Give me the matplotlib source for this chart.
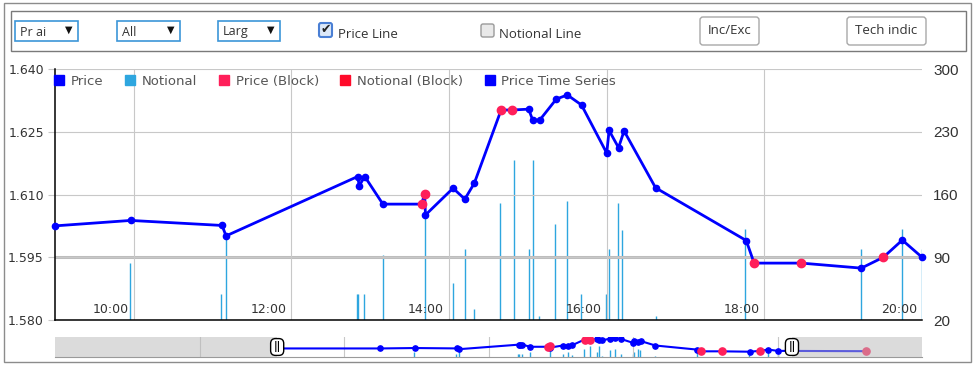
import matplotlib
matplotlib.use("Agg")
import numpy as np
import matplotlib.pyplot as plt
from matplotlib.patches import FancyBboxPatch
from matplotlib.lines import Line2D
from matplotlib.transforms import Affine2D, blended_transform_factory, offset_copy

plt.rcParams['font.family'] = 'DejaVu Sans'

W, H = 975, 367

# trades, time in hours of the day
price_times = [6.1, 9.0, 9.96, 11.12, 11.17, 12.84, 12.86, 12.93, 13.16, 13.65, 13.69, 13.70,
               14.05, 14.20, 14.32, 14.66, 14.80, 15.01, 15.06, 15.15, 15.36, 15.50, 15.68,
               16.00, 16.03, 16.15, 16.22, 16.62, 17.77, 17.87, 18.47, 19.23, 19.51, 19.75,
               20.0, 22.45]
prices = [1.6025, 1.6025, 1.6038, 1.6026, 1.6001, 1.6143, 1.6121, 1.6143, 1.6077, 1.6077,
          1.6101, 1.6051, 1.6115, 1.6089, 1.6127, 1.6302, 1.6302, 1.6304, 1.6278, 1.6278,
          1.6328, 1.6338, 1.6314, 1.6199, 1.6253, 1.6212, 1.6252, 1.6116, 1.5990, 1.5936,
          1.5936, 1.5924, 1.5950, 1.5991, 1.5950, 1.5940]
is_block = [0, 0, 0, 0, 0, 0, 0, 0, 0, 1,
            1, 0, 0, 0, 0, 1, 1, 0, 0, 0,
            0, 0, 0, 0, 0, 0, 0, 0, 0, 1,
            1, 0, 1, 0, 0, 1]

notional_times = [9.95, 11.10, 11.17, 12.83, 12.84, 12.92, 13.16, 13.69, 14.05, 14.20, 14.31,
                  14.65, 14.82, 15.01, 15.06, 15.14, 15.35, 15.49, 15.67, 15.99, 16.03, 16.14,
                  16.20, 16.62, 17.76, 19.22, 19.75, 20.0]
notional = [84, 49, 114, 49, 49, 49, 92, 135, 61, 99, 32,
            150, 199, 99, 199, 24, 127, 153, 49, 49, 99, 151,
            120, 24, 122, 99, 122, 99]

price_ticks = [1.580, 1.595, 1.610, 1.625, 1.640]
notional_ticks = [20, 90, 160, 230, 300]
hour_ticks = [10, 12, 14, 16, 18, 20]
hour_labels = ["10:00", "12:00", "14:00", "16:00", "18:00", "20:00"]
ref_price = 1.595
view = (9, 20)
nav_grid_hours = [4, 8, 12, 16, 20]
nav_range = (6.15, 20.4)

legend_labels = ["Price", "Notional", "Price (Block)", "Notional (Block)", "Price Time Series"]
legend_colors = ["#0000ff", "#2ea6df", "#ff1f5a", "#ff0a2a", "#0000ff"]

BLUE = "#0000ff"
PINK = "#ff1f5a"
NOTIONAL = "#2ea6df"
GRID = "#c8c8c8"

t = np.array(price_times)
p = np.array(prices)
blk = np.array(is_block, dtype=bool)

fig = plt.figure(figsize=(W / 100, H / 100), dpi=100)
px = Affine2D().scale(1 / W, -1 / H).translate(0, 1) + fig.transFigure


def box(x0, y0, x1, y1, r=0, **kw):
    style = f"round,pad=0,rounding_size={r}" if r else "square,pad=0"
    fig.add_artist(FancyBboxPatch((x0, y0), x1 - x0, y1 - y0, boxstyle=style, transform=px, **kw))


def label(x, y, s, **kw):
    kw.setdefault('fontsize', 9)
    kw.setdefault('color', '#333333')
    kw.setdefault('family', 'Open Sans')
    fig.text(x, y, s, transform=px, **kw)


# frame + toolbar
box(4, 3, 971, 362, fc='none', ec='#8c8c8c', lw=1)
box(11, 11, 966, 51, fc='none', ec='#7a7a7a', lw=1)
for name, x0, x1 in [("Pr ai", 15, 78), ("All", 117, 180), ("Larg", 218, 280)]:
    box(x0, 21, x1, 41, fc='white', ec='#3c96d8', lw=1.2)
    label(x0 + 5, 32, name, va='center')
    label(x1 - 9, 30, "\u25bc", va='center', ha='center', fontsize=7, color='#111111', family='DejaVu Sans')
box(319, 23, 332, 37, r=2, fc='#dce8f8', ec='#4a7fd4', lw=1.5)
label(325.5, 30, "\u2714", ha='center', va='center', fontsize=9, color='#222222', family='DejaVu Sans')
label(338, 34, "Price Line", va='center', fontsize=9.5)
box(481, 24, 494, 37, r=2, fc='#e9e9e9', ec='#9a9a9a', lw=1)
label(499, 34, "Notional Line", va='center', fontsize=9.5)
for name, x0, x1 in [("Inc/Exc", 700, 759), ("Tech indic", 847, 926)]:
    box(x0, 17, x1, 45, r=3, fc='white', ec='#a8a8a8', lw=1)
    label((x0 + x1) / 2, 31, name, ha='center', va='center', fontsize=9.5)

# main chart
ax = fig.add_axes([55 / W, (H - 320) / H, 867 / W, 251 / H])
axb = ax.twinx()
ax.set_zorder(axb.get_zorder() + 1)
ax.patch.set_visible(False)

axb.vlines(notional_times, notional_ticks[0], notional, color=NOTIONAL, lw=1)
axb.set_ylim(notional_ticks[0], notional_ticks[-1])
axb.set_yticks(notional_ticks)
axb.tick_params(axis='y', length=0, pad=8, labelsize=11, labelcolor='#333333')
for lab in axb.get_yticklabels():
    lab.set_family('Liberation Sans')
for s in axb.spines.values():
    s.set_visible(False)

ax.set_xlim(*view)
ax.set_ylim(price_ticks[0], price_ticks[-1])
ax.set_yticks(price_ticks)
ax.set_yticklabels([f"{v:.3f}" for v in price_ticks])
ax.set_xticks(hour_ticks[:-1])
ax.set_xticklabels([])
ax.tick_params(axis='x', length=0)
ax.tick_params(axis='y', length=5, color=GRID, labelsize=9, labelcolor='#333333', pad=3)
ax.grid(True, color=GRID, lw=0.8, zorder=0)
ax.axhline(ref_price, color='#bdbdbd', lw=2.2, zorder=1)
for side in ['top', 'right']:
    ax.spines[side].set_visible(False)
ax.spines['left'].set_linewidth(1.1)
ax.spines['bottom'].set_linewidth(1.1)

ax.plot(t, p, color=BLUE, lw=2, zorder=3)
inside = (t >= view[0]) & (t <= view[1])
ax.plot(t[inside & ~blk], p[inside & ~blk], 'o', ms=4.5, color=BLUE, zorder=4, clip_on=False)
ax.plot(t[inside & blk], p[inside & blk], 'o', ms=6, color=PINK, mec=PINK, zorder=5, clip_on=False)

tr = offset_copy(blended_transform_factory(ax.transData, ax.transAxes), fig=fig, x=-5, y=0, units='dots')
for h, s in zip(hour_ticks, hour_labels):
    ax.text(h, 0.016, s, transform=tr, ha='right', va='bottom', fontsize=9, color='#333333')

handles = [Line2D([], [], marker='s', ls='', color=c, ms=7) for c in legend_colors]
ax.legend(handles, legend_labels, loc='upper left', bbox_to_anchor=(54 / W, 1 - 75 / H),
          bbox_transform=fig.transFigure, ncol=5, frameon=False, fontsize=9.5,
          handlelength=0.8, handletextpad=0.5, columnspacing=1.6, borderpad=0,
          borderaxespad=0, labelcolor='#555555')

# navigator
nav = fig.add_axes([55 / W, (H - 357) / H, 867 / W, 20 / H])
navb = nav.twinx()
nav.set_zorder(navb.get_zorder() + 1)
nav.patch.set_visible(False)
navb.vlines(notional_times, 0, notional, color=NOTIONAL, lw=1)
navb.set_ylim(0, 360)
navb.set_yticks([])
for s in navb.spines.values():
    s.set_visible(False)

nav.set_xlim(0, 24)
nav.set_ylim(1.576, 1.638)
nav.set_xticks([])
nav.set_yticks([])
for g in nav_grid_hours:
    nav.axvline(g, color=GRID, lw=0.8, zorder=0)
nav.plot(t, p, color=BLUE, lw=1.5, zorder=3)
nav.plot(t[~blk], p[~blk], 'o', ms=3.8, color=BLUE, zorder=4)
nav.plot(t[blk], p[blk], 'o', ms=5.2, color=PINK, zorder=4)
nav.axvspan(0, nav_range[0], color='#b9b9b9', alpha=0.5, lw=0, zorder=5)
nav.axvspan(nav_range[1], 24, color='#b9b9b9', alpha=0.5, lw=0, zorder=5)
for side in ['top', 'left', 'right']:
    nav.spines[side].set_visible(False)
nav.spines['bottom'].set_color('#9a9a9a')
ntr = blended_transform_factory(nav.transData, nav.transAxes)
for x in nav_range:
    nav.text(x, 0.5, "||", transform=ntr, ha='center', va='center', fontsize=7,
             fontweight='bold', zorder=6, clip_on=False,
             bbox=dict(boxstyle='round,pad=0.3,rounding_size=0.5', fc='white', ec='black', lw=1))

fig.savefig('out.png', dpi=100)
